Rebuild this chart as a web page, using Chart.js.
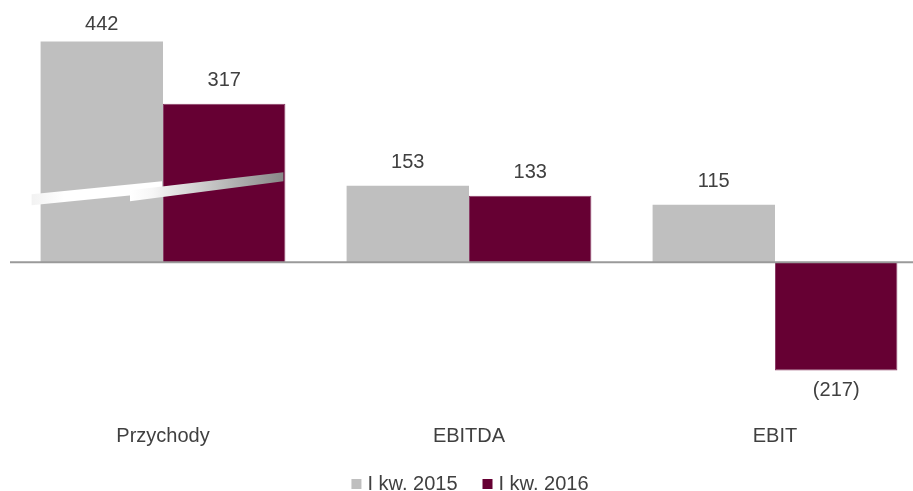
<!DOCTYPE html>
<html>
<head>
<meta charset="utf-8">
<script src="https://cdn.jsdelivr.net/npm/chart.js@4/dist/chart.umd.min.js"></script>
<style>
  html, body { margin: 0; padding: 0; background: #fff; overflow: hidden; }
  canvas { display: block; }
</style>
</head>
<body>
<canvas id="resultsChart" width="930" height="491"></canvas>
<script>
const categories = ['Przychody', 'EBITDA', 'EBIT'];
const seriesNames = ['I kw. 2015', 'I kw. 2016'];
const values2015 = [442, 153, 115];
const values2016 = [317, 133, -217];
const seriesColors = ['#bfbfbf', '#660033'];

const FONT = '"Liberation Sans", Arial, sans-serif';
const TEXT_COLOR = '#404040';

// value labels: above positive bars, in brackets below negative ones
const valueLabels = {
  id: 'valueLabels',
  afterDatasetsDraw(chart) {
    const ctx = chart.ctx;
    ctx.save();
    ctx.font = '20px ' + FONT;
    ctx.fillStyle = TEXT_COLOR;
    ctx.textAlign = 'center';
    ctx.textBaseline = 'middle';
    chart.data.datasets.forEach((ds, i) => {
      chart.getDatasetMeta(i).data.forEach((bar, j) => {
        const v = ds.data[j];
        if (v >= 0) {
          ctx.fillText(String(v), bar.x, Math.max(bar.y - 23, 24));
        } else {
          ctx.fillText('(' + (-v) + ')', bar.x, bar.y + 20);
        }
      });
    });
    ctx.restore();
  }
};

// axis line at zero
const zeroLine = {
  id: 'zeroLine',
  afterDatasetsDraw(chart) {
    const ctx = chart.ctx;
    const y = chart.scales.y.getPixelForValue(0);
    ctx.save();
    ctx.strokeStyle = '#9a9a9a';
    ctx.lineWidth = 2;
    ctx.beginPath();
    ctx.moveTo(chart.chartArea.left, y);
    ctx.lineTo(chart.chartArea.right, y);
    ctx.stroke();
    ctx.restore();
  }
};

// slanted break marks across the revenue bars
const breakMark = {
  id: 'breakMark',
  afterDatasetsDraw(chart) {
    const ctx = chart.ctx;
    const a = chart.getDatasetMeta(0).data[0];
    const b = chart.getDatasetMeta(1).data[0];
    const y0 = chart.scales.y.getPixelForValue(0);
    const aL = a.x - a.width / 2, aR = a.x + a.width / 2;
    const bR = b.x + b.width / 2;

    ctx.save();
    // piece across the first bar
    let x1 = aL - 9, x2 = aR - 1;
    let g = ctx.createLinearGradient(x1, 0, x2, 0);
    g.addColorStop(0, '#f2f2f2');
    g.addColorStop(0.25, '#ffffff');
    g.addColorStop(1, '#ffffff');
    ctx.fillStyle = g;
    ctx.beginPath();
    ctx.moveTo(x1, y0 - 68);
    ctx.lineTo(x2, y0 - 68 - 0.1 * (x2 - x1));
    ctx.lineTo(x2, y0 - 57 - 0.1 * (x2 - x1));
    ctx.lineTo(x1, y0 - 57);
    ctx.closePath();
    ctx.fill();

    // stepped piece running into the second bar
    x1 = aR - 33; x2 = bR - 2;
    g = ctx.createLinearGradient(x1, 0, x2, 0);
    g.addColorStop(0, '#ffffff');
    g.addColorStop(0.15, '#f6f6f6');
    g.addColorStop(1, '#888888');
    ctx.fillStyle = g;
    ctx.beginPath();
    ctx.moveTo(x1, y0 - 72);
    ctx.lineTo(x2, y0 - 90);
    ctx.lineTo(x2, y0 - 81);
    ctx.lineTo(x1, y0 - 61);
    ctx.closePath();
    ctx.fill();
    ctx.restore();
  }
};

// legend with small square keys under the axis labels
const bottomLegend = {
  id: 'bottomLegend',
  afterDraw(chart) {
    const ctx = chart.ctx;
    const box = 10, gapText = 6, gapItem = 25;
    const baseline = 490;
    ctx.save();
    ctx.font = '20px ' + FONT;
    ctx.textBaseline = 'alphabetic';
    const items = chart.data.datasets.map(ds => ({
      label: ds.label, color: ds.backgroundColor, w: ctx.measureText(ds.label).width
    }));
    const total = items.reduce((s, it) => s + box + gapText + it.w, 0) + gapItem * (items.length - 1);
    let x = (chart.chartArea.left + chart.chartArea.right) / 2 - total / 2 + 1;
    items.forEach(it => {
      ctx.fillStyle = it.color;
      ctx.fillRect(x, baseline - 11, box, box);
      x += box + gapText;
      ctx.fillStyle = TEXT_COLOR;
      ctx.fillText(it.label, x, baseline);
      x += it.w + gapItem;
    });
    ctx.restore();
  }
};

new Chart(document.getElementById('resultsChart').getContext('2d'), {
  type: 'bar',
  data: {
    labels: categories,
    datasets: [
      {
        label: seriesNames[0],
        data: values2015,
        backgroundColor: seriesColors[0],
        borderWidth: 0,
      },
      {
        label: seriesNames[1],
        data: values2016,
        backgroundColor: seriesColors[1],
        borderColor: '#8a3d66',
        borderWidth: 1,
      },
    ],
  },
  options: {
    responsive: false,
    animation: false,
    layout: {
      padding: { left: 10, right: 2, top: 0, bottom: 31 },
    },
    datasets: {
      bar: { categoryPercentage: 0.8, barPercentage: 1.0 },
    },
    scales: {
      x: {
        grid: { display: false, drawTicks: false },
        border: { display: false },
        ticks: {
          padding: 12,
          color: TEXT_COLOR,
          font: { family: FONT, size: 20 },
        },
      },
      y: {
        display: false,
        min: -300,
        max: 525,
      },
    },
    plugins: {
      legend: { display: false },
      tooltip: { enabled: false },
    },
  },
  plugins: [zeroLine, breakMark, valueLabels, bottomLegend],
});
</script>
</body>
</html>
